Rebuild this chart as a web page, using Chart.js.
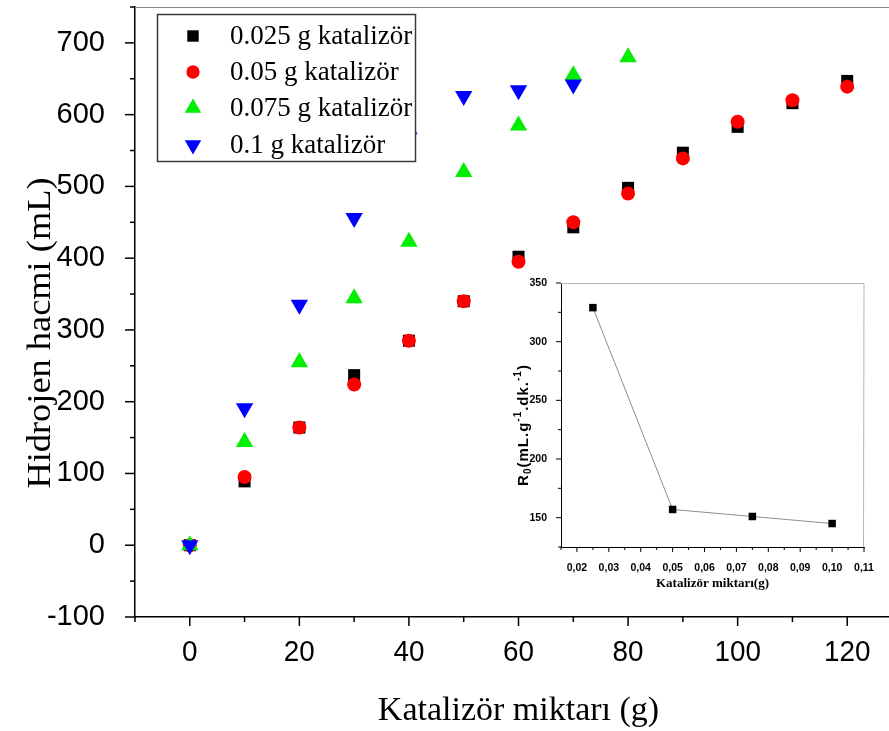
<!DOCTYPE html>
<html>
<head>
<meta charset="utf-8">
<script src="https://cdn.jsdelivr.net/npm/chart.js@4.4.0/dist/chart.umd.min.js"></script>
<style>
  html, body { margin: 0; padding: 0; background: #fff; overflow: hidden; width: 889px; height: 731px; }
  #wrap { position: relative; width: 889px; height: 731px; overflow: hidden; background: #fff; }
  #main { position: absolute; left: 0; top: 0; }
  #inset { position: absolute; left: 505px; top: 268px; }
</style>
</head>
<body>
<div id="wrap">
  <canvas id="main" width="905" height="731"></canvas>
  <canvas id="inset" width="380" height="332"></canvas>
</div>
<script>
// Catalyst amount axis values (x) for each run
const catalystAxis = [0, 10, 20, 30, 40, 50, 60, 70, 80, 90, 100, 110, 120];

// Hydrogen volume (mL) for each catalyst loading
const h2_0025 = [0, 89, 164, 237, 285, 340, 402, 443, 498, 547, 583, 616, 647];
const h2_005  = [0, 95, 164, 224, 285, 340, 395, 450, 490, 539, 590, 620, 639];
const h2_0075 = [0, 144, 255, 344, 423, 520, 585, 655, 680];
const h2_01   = [0, 191, 335, 456, 568, 626, 634, 642];

// Main axis ticks and titles
const xMainTicks = [0, 20, 40, 60, 80, 100, 120];
const yMainTicks = [-100, 0, 100, 200, 300, 400, 500, 600, 700];
const xMainTitle = 'Katalizör miktarı (g)';
const yMainTitle = 'Hidrojen hacmi (mL)';

// Inset: initial rate vs catalyst amount
const rateCatalyst = [0.025, 0.05, 0.075, 0.1];
const rateValues   = [329, 157, 151, 145];
const xInsetTicks  = [0.02, 0.03, 0.04, 0.05, 0.06, 0.07, 0.08, 0.09, 0.10, 0.11];
const yInsetTicks  = [150, 200, 250, 300, 350];

const serif = '"Liberation Serif", "Times New Roman", serif';
const sans = '"Liberation Sans", Arial, sans-serif';

Chart.defaults.animation = false;
Chart.defaults.color = '#000';

function pairs(xs, ys) {
  return ys.map((y, i) => ({ x: xs[i], y: y }));
}

function fixedTicks(values) {
  return function (scale) { scale.ticks = values.map(v => ({ value: v })); };
}

// Fixed scale thickness, with no extra label overhang padding
function fixedSize(prop, size) {
  return function (s) {
    s[prop] = size;
    s.paddingTop = 0; s.paddingBottom = 0; s.paddingLeft = 0; s.paddingRight = 0;
  };
}

// Outward tick marks (major + minor) drawn along the x and y scales
function tickMarks(id, spec) {
  return {
    id: id,
    afterDraw(chart) {
      const ctx = chart.ctx, a = chart.chartArea;
      const xs = chart.scales.x, ys = chart.scales.y;
      ctx.save();
      ctx.strokeStyle = '#000';
      ctx.lineWidth = spec.width;
      for (const t of spec.x) {
        const px = xs.getPixelForValue(t.v);
        ctx.beginPath();
        ctx.moveTo(px, a.bottom);
        ctx.lineTo(px, a.bottom + t.len);
        ctx.stroke();
      }
      for (const t of spec.y) {
        const py = ys.getPixelForValue(t.v);
        ctx.beginPath();
        ctx.moveTo(a.left, py);
        ctx.lineTo(a.left - t.len, py);
        ctx.stroke();
      }
      if (spec.frame) {
        ctx.strokeStyle = spec.frame;
        ctx.lineWidth = 1;
        ctx.beginPath();
        ctx.moveTo(a.left, a.top + 0.5);
        ctx.lineTo(spec.frameRight ? a.right : chart.width, a.top + 0.5);
        if (spec.frameRight) ctx.lineTo(a.right - 0.5, a.bottom);
        ctx.stroke();
      }
      ctx.restore();
    }
  };
}

// x tick labels at the scale's own tick positions, plus the rotated y title
const mainLabels = {
  id: 'mainLabels',
  afterDraw(chart) {
    const ctx = chart.ctx, xs = chart.scales.x, a = chart.chartArea;
    ctx.save();
    ctx.fillStyle = '#000';
    ctx.font = '29px ' + sans;
    ctx.textAlign = 'center';
    ctx.textBaseline = 'middle';
    for (const t of xs.ticks) {
      const px = xs.getPixelForValue(t.value);
      ctx.save();
      ctx.translate(px, a.bottom + 36);
      ctx.scale(0.96, 1.04);
      ctx.fillText(String(t.value), 0, 0);
      ctx.restore();
    }
    ctx.translate(41, (a.top + a.bottom) / 2 + 21);
    ctx.rotate(-Math.PI / 2);
    ctx.scale(1.07, 1);
    ctx.font = '34px ' + serif;
    ctx.fillText(yMainTitle, 0, 0);
    ctx.restore();
  }
};

const mainTickSpec = { width: 1.5, frame: '#8a8a8a', frameRight: false, x: [], y: [] };
for (let k = -1; k <= 13; k++) mainTickSpec.x.push({ v: k * 10, len: k % 2 === 0 ? 9 : 5 });
for (let k = -2; k <= 15; k++) mainTickSpec.y.push({ v: k * 50, len: k % 2 === 0 ? 10 : 5 });

const insetTickSpec = { width: 1, frame: '#b5b5b5', frameRight: true, x: [], y: [] };
for (let k = 3; k <= 22; k++) insetTickSpec.x.push({ v: k * 0.005, len: k % 2 === 0 ? 5 : 3 });
for (let k = 5; k <= 14; k++) insetTickSpec.y.push({ v: k * 25, len: k % 2 === 0 ? 5 : 3 });

// Boxed legend in the upper-left corner of the plot
const legendBox = {
  id: 'legendBox',
  afterDatasetsDraw(chart) {
    const ctx = chart.ctx, a = chart.chartArea;
    const bx = a.left + 22.5, by = a.top + 7.5, bw = 258, bh = 147;
    ctx.save();
    ctx.fillStyle = '#fff';
    ctx.fillRect(bx, by, bw, bh);
    ctx.strokeStyle = '#3a3a3a';
    ctx.lineWidth = 1.5;
    ctx.strokeRect(bx, by, bw, bh);
    const rows = [36, 72, 108, 145];
    chart.data.datasets.forEach((ds, i) => {
      const y = rows[i];
      ctx.fillStyle = ds.backgroundColor;
      Chart.helpers.drawPoint(ctx, {
        pointStyle: ds.pointStyle,
        rotation: ds.rotation || 0,
        radius: ds.pointRadius * 0.95,
        borderWidth: 0
      }, bx + 35.5, y);
      ctx.fillStyle = '#000';
      ctx.font = '27px ' + serif;
      ctx.textBaseline = 'middle';
      ctx.textAlign = 'left';
      ctx.fillText(ds.label, bx + 72.5, y + 1);
    });
    ctx.restore();
  }
};

new Chart(document.getElementById('main'), {
  type: 'scatter',
  data: {
    datasets: [
      { label: '0.025 g katalizör', data: pairs(catalystAxis, h2_0025), pointStyle: 'rect', pointRadius: 8.5,
        backgroundColor: '#000000', borderWidth: 0, pointBorderWidth: 0, order: 3 },
      { label: '0.05 g katalizör', data: pairs(catalystAxis, h2_005), pointStyle: 'circle', pointRadius: 7,
        backgroundColor: '#ff0000', borderWidth: 0, pointBorderWidth: 0, order: 2 },
      { label: '0.075 g katalizör', data: pairs(catalystAxis, h2_0075), pointStyle: 'triangle', pointRadius: 10,
        backgroundColor: '#00ee00', borderWidth: 0, pointBorderWidth: 0, order: 1 },
      { label: '0.1 g katalizör', data: pairs(catalystAxis, h2_01), pointStyle: 'triangle', rotation: 180, pointRadius: 10,
        backgroundColor: '#0000ff', borderWidth: 0, pointBorderWidth: 0, order: 0 }
    ]
  },
  options: {
    responsive: false,
    devicePixelRatio: 1,
    layout: { autoPadding: false, padding: { top: 7, right: 3, left: 0, bottom: 0 } },
    plugins: { legend: { display: false }, tooltip: { enabled: false } },
    elements: { point: { hoverRadius: 0 } },
    scales: {
      x: {
        type: 'linear', min: -10, max: 130,
        afterBuildTicks: fixedTicks(xMainTicks),
        afterFit: fixedSize('height', 114),
        grid: { display: false },
        border: { display: true, color: '#000', width: 1.5 },
        ticks: { display: false },
        title: { display: true, text: xMainTitle, color: '#000',
                 font: { family: serif, size: 34 }, padding: { top: 0, bottom: 0 } }
      },
      y: {
        type: 'linear', min: -100, max: 750,
        afterBuildTicks: fixedTicks(yMainTicks),
        afterFit: fixedSize('width', 135),
        grid: { display: false },
        border: { display: true, color: '#000', width: 1.5 },
        ticks: { font: { family: sans, size: 29 }, color: '#000', padding: 22 },
        title: { display: false }
      }
    }
  },
  plugins: [tickMarks('mainTicks', mainTickSpec), mainLabels, legendBox]
});

// Rotated y title of the inset with subscript / superscripts
const insetYTitle = {
  id: 'insetYTitle',
  afterDraw(chart) {
    const ctx = chart.ctx;
    const parts = [
      { t: 'R', size: 15, dy: 0 },
      { t: '0', size: 10, dy: 4 },
      { t: '(mL.g', size: 15, dy: 0 },
      { t: '-1', size: 10, dy: -6 },
      { t: '.dk.', size: 15, dy: 0 },
      { t: '-1', size: 10, dy: -6 },
      { t: ')', size: 15, dy: 0 }
    ];
    ctx.save();
    ctx.translate(19, 157);
    ctx.rotate(-Math.PI / 2);
    ctx.fillStyle = '#000';
    ctx.textBaseline = 'middle';
    ctx.textAlign = 'left';
    if ('letterSpacing' in ctx) ctx.letterSpacing = '1px';
    let total = 0;
    for (const p of parts) { ctx.font = 'bold ' + p.size + 'px ' + sans; total += ctx.measureText(p.t).width; }
    let x = -total / 2;
    for (const p of parts) {
      ctx.font = 'bold ' + p.size + 'px ' + sans;
      ctx.fillText(p.t, x, p.dy);
      x += ctx.measureText(p.t).width;
    }
    ctx.restore();
  }
};

new Chart(document.getElementById('inset'), {
  type: 'scatter',
  data: {
    datasets: [{
      label: 'R0',
      data: pairs(rateCatalyst, rateValues),
      showLine: true,
      borderColor: '#8c8c8c',
      borderWidth: 1,
      pointStyle: 'rect',
      pointRadius: 5.3,
      backgroundColor: '#000',
      pointBackgroundColor: '#000',
      pointBorderWidth: 0
    }]
  },
  options: {
    responsive: false,
    devicePixelRatio: 1,
    layout: { autoPadding: false, padding: { top: 15, right: 21, left: 0, bottom: 0 } },
    plugins: { legend: { display: false }, tooltip: { enabled: false } },
    elements: { point: { hoverRadius: 0 } },
    scales: {
      x: {
        type: 'linear', min: 0.015, max: 0.11,
        afterBuildTicks: fixedTicks(xInsetTicks),
        afterFit: fixedSize('height', 53),
        grid: { display: false },
        border: { display: true, color: '#000', width: 1 },
        ticks: {
          font: { family: sans, size: 10.5, weight: 'bold' }, color: '#000', padding: 7, maxRotation: 0,
          callback: v => v.toFixed(2).replace('.', ',')
        },
        title: { display: true, text: 'Katalizör miktarı(g)', color: '#000',
                 font: { family: serif, size: 13, weight: 'bold' }, padding: { top: 0, bottom: 9 } }
      },
      y: {
        type: 'linear', min: 125, max: 350,
        afterBuildTicks: fixedTicks(yInsetTicks),
        afterFit: fixedSize('width', 56),
        grid: { display: false },
        border: { display: true, color: '#000', width: 1 },
        ticks: { font: { family: sans, size: 10.5, weight: 'bold' }, color: '#000', padding: 6 }
      }
    }
  },
  plugins: [tickMarks('insetTicks', insetTickSpec), insetYTitle]
});
</script>
</body>
</html>
